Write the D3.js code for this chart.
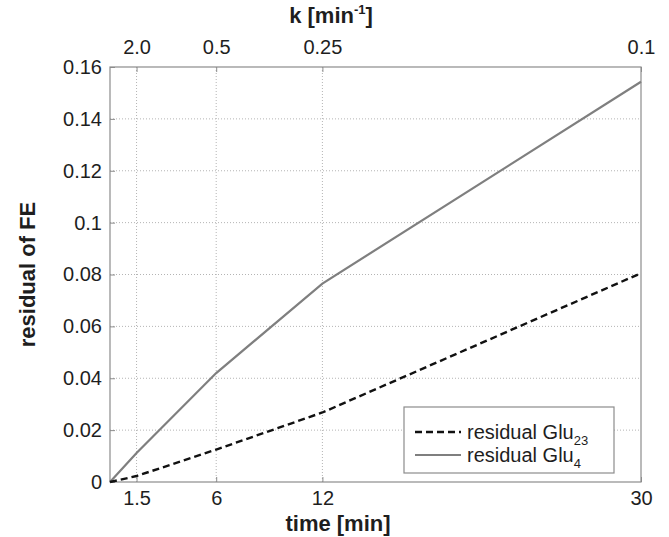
<!DOCTYPE html>
<html>
<head>
<meta charset="utf-8">
<script src="https://cdn.jsdelivr.net/npm/d3@7"></script>
<style>
  html, body { margin: 0; padding: 0; background: #fff; }
  svg { display: block; font-family: "Liberation Sans", Arial, Helvetica, sans-serif; }
</style>
</head>
<body>
<svg id="chart" width="669" height="537"></svg>
<script>
// ---- data ----
const times = [0, 1.5, 6, 12, 30];
const glu23 = [0, 0.0023, 0.0125, 0.0268, 0.0805];
const glu4 = [0, 0.0112, 0.042, 0.0765, 0.1543];
const xTicks = [1.5, 6, 12, 30];
const xTickLabels = ["1.5", "6", "12", "30"];
const kTickLabels = ["2.0", "0.5", "0.25", "0.1"];
const yTicks = [0, 0.02, 0.04, 0.06, 0.08, 0.1, 0.12, 0.14, 0.16];
const yTickLabels = ["0", "0.02", "0.04", "0.06", "0.08", "0.1", "0.12", "0.14", "0.16"];
const seriesNames = ["residual Glu", "residual Glu"];
const seriesSubs = ["23", "4"];

// ---- layout ----
const W = 669, H = 537;
const m = { left: 110, right: 28, top: 67, bottom: 55 };
const svg = d3.select("#chart");
const x = d3.scaleLinear().domain([0, 30]).range([m.left, W - m.right]);
const y = d3.scaleLinear().domain([0, 0.16]).range([H - m.bottom, m.top]);
const textColor = "#1e1e1e";
const axisColor = "#8c8c8c";

// grid lines
const grid = svg.append("g");
grid.selectAll("line.v").data(xTicks.filter(t => t < 30)).join("line")
  .attr("x1", d => x(d)).attr("x2", d => x(d))
  .attr("y1", y(0)).attr("y2", y(0.16))
  .attr("stroke", "#b4b4b4").attr("stroke-width", 1).attr("stroke-dasharray", "1,2");
grid.selectAll("line.h").data(yTicks.filter(t => t > 0 && t < 0.16)).join("line")
  .attr("x1", x(0)).attr("x2", x(30))
  .attr("y1", d => y(d)).attr("y2", d => y(d))
  .attr("stroke", "#b4b4b4").attr("stroke-width", 1).attr("stroke-dasharray", "1,2");

// axes
function styleAxis(g) {
  g.select(".domain").remove();
  g.selectAll(".tick line").attr("stroke", axisColor);
  g.selectAll(".tick text").attr("fill", textColor).attr("font-size", 20);
}
svg.append("g").attr("transform", `translate(0,${y(0)})`)
  .call(d3.axisBottom(x).tickValues(xTicks).tickSize(-5).tickPadding(9)
    .tickFormat((d, i) => xTickLabels[i]))
  .call(styleAxis);
svg.append("g").attr("transform", `translate(0,${y(0.16)})`)
  .call(d3.axisTop(x).tickValues(xTicks).tickSize(-5).tickPadding(13)
    .tickFormat((d, i) => kTickLabels[i]))
  .call(styleAxis);
svg.append("g").attr("transform", `translate(${x(0)},0)`)
  .call(d3.axisLeft(y).tickValues(yTicks).tickSize(-5).tickPadding(8)
    .tickFormat((d, i) => yTickLabels[i]))
  .call(styleAxis);

// box
svg.append("rect")
  .attr("x", x(0)).attr("y", y(0.16))
  .attr("width", x(30) - x(0)).attr("height", y(0) - y(0.16))
  .attr("fill", "none").attr("stroke", axisColor).attr("stroke-width", 1.2);

// lines
const line = d3.line().x((d, i) => x(times[i])).y(d => y(d));
svg.append("path").datum(glu4).attr("d", line)
  .attr("fill", "none").attr("stroke", "#7f7f7f").attr("stroke-width", 2.2);
svg.append("path").datum(glu23).attr("d", line)
  .attr("fill", "none").attr("stroke", "#111").attr("stroke-width", 2.4)
  .attr("stroke-dasharray", "7,4");

// axis labels
svg.append("text").attr("x", 338).attr("y", 531)
  .attr("text-anchor", "middle").attr("font-weight", "bold").attr("font-size", 22)
  .attr("fill", textColor).text("time [min]");

const kt = svg.append("text").attr("x", 331).attr("y", 23)
  .attr("text-anchor", "middle").attr("font-weight", "bold").attr("font-size", 22)
  .attr("fill", textColor);
kt.append("tspan").text("k [min");
kt.append("tspan").attr("dy", -9).attr("font-size", 13).text("-1");
kt.append("tspan").attr("dy", 9).text("]");

svg.append("text")
  .attr("transform", `translate(35,${(y(0) + y(0.16)) / 2}) rotate(-90)`)
  .attr("text-anchor", "middle").attr("font-weight", "bold").attr("font-size", 22)
  .attr("fill", textColor).text("residual of FE");

// legend
const lg = svg.append("g");
lg.append("rect").attr("x", 404).attr("y", 407).attr("width", 210).attr("height", 66)
  .attr("fill", "#fff").attr("stroke", axisColor).attr("stroke-width", 1.2);
const legStyles = [
  { stroke: "#111", dash: "7,4", w: 2.4 },
  { stroke: "#7f7f7f", dash: null, w: 2.2 }
];
seriesNames.forEach((name, i) => {
  const cy = 432 + i * 23;
  lg.append("line").attr("x1", 415).attr("x2", 461).attr("y1", cy).attr("y2", cy)
    .attr("stroke", legStyles[i].stroke).attr("stroke-width", legStyles[i].w)
    .attr("stroke-dasharray", legStyles[i].dash);
  const t = lg.append("text").attr("x", 467).attr("y", cy + 7)
    .attr("font-size", 20).attr("fill", textColor);
  t.append("tspan").text(name);
  t.append("tspan").attr("dy", 6).attr("font-size", 13).text(seriesSubs[i]);
});
</script>
</body>
</html>
